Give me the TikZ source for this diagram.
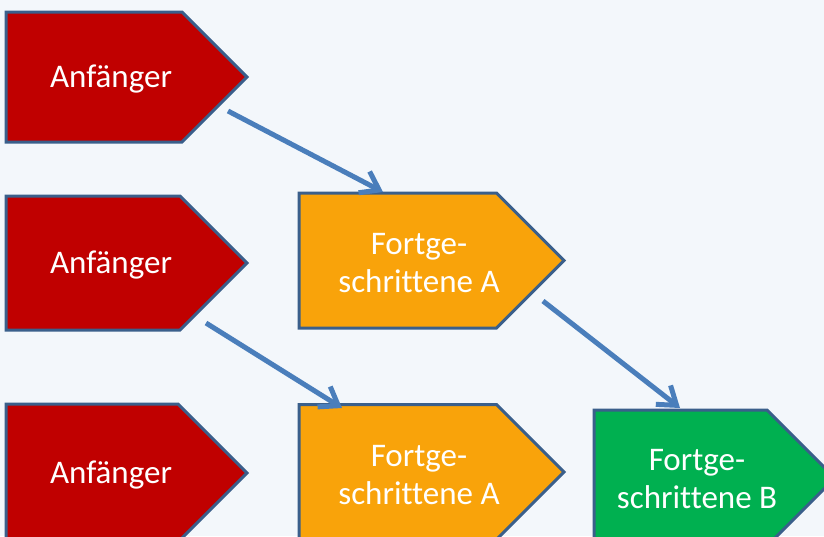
\documentclass[tikz,border=0pt]{standalone}
\usepackage{fontspec}
\setmainfont{Carlito}[Ligatures=NoCommon]
\usetikzlibrary{shapes.symbols,arrows.meta,calc}
\definecolor{bgblue}{HTML}{F3F7FB}
\definecolor{edgeblue}{HTML}{3A5F8B}
\definecolor{arrowblue}{HTML}{4A7EBB}
\definecolor{levelred}{HTML}{C00000}
\definecolor{levelorange}{HTML}{F9A30A}
\definecolor{levelgreen}{HTML}{00B050}

\begin{document}
\begin{tikzpicture}[x=0.5pt,y=-0.5pt,
    level/.style={signal, signal to=east, signal pointer angle=90, anchor=west,
      draw=edgeblue, line width=1.5pt, inner sep=0pt, outer sep=0pt},
    lbl/.style={text=white, align=center, font=\fontsize{16.5}{19}\selectfont},
    flow/.style={draw=arrowblue, line width=2.5pt,
      -{Straight Barb[length=8.5pt,width=12pt]}}]
        % Hintergrund
        \useasboundingbox (0,0) rectangle (824,536);
        \fill[bgblue] (0,0) rectangle (824,536);
        \clip (0,0) rectangle (824,536);

        % Anfaenger
        \node[level, fill=levelred, minimum width=120.5pt, minimum height=65pt] (a1) at (6,77) {};
        \node[level, fill=levelred, minimum width=120.5pt, minimum height=67pt] (a2) at (6,263) {};
        \node[level, fill=levelred, minimum width=120.5pt, minimum height=69pt] (a3) at (6,473) {};
        \node[lbl] (t1) at ($(a1.west)+(105,2)$) {Anfänger};
        \node[lbl] (t2) at ($(a2.west)+(105,2)$) {Anfänger};
        \node[lbl] (t3) at ($(a3.west)+(105,2)$) {Anfänger};

        % Fortgeschrittene A
        \node[level, fill=levelorange, minimum width=132.5pt, minimum height=67.5pt] (f1) at (299,260.5) {};
        \node[level, fill=levelorange, minimum width=132.5pt, minimum height=67.5pt] (f2) at (299,472) {};
        \node[lbl] (t4) at ($(f1.west)+(120,3)$) {Fortge-\\schrittene A};
        \node[lbl] (t5) at ($(f2.west)+(120,3)$) {Fortge-\\schrittene A};

        % Fortgeschrittene B
        \node[level, fill=levelgreen, minimum width=120.5pt, minimum height=68pt] (b1) at (594,478) {};
        \node[lbl] (t6) at ($(b1.west)+(103,1)$) {Fortge-\\schrittene B};

        % Pfeile
        \coordinate (p1) at ($(a1.west)+(222,34)$);
        \coordinate (q1) at ($(f1.west)+(84,-68.5)$);
        \coordinate (p2) at ($(a2.west)+(200,60)$);
        \coordinate (q2) at ($(f2.west)+(43,-64)$);
        \coordinate (p3) at ($(f1.west)+(244,40.5)$);
        \coordinate (q3) at ($(b1.west)+(86,-70)$);
        \draw[flow] (p1) -- (q1);
        \draw[flow] (p2) -- (q2);
        \draw[flow] (p3) -- (q3);
      \end{tikzpicture}
\end{document}
